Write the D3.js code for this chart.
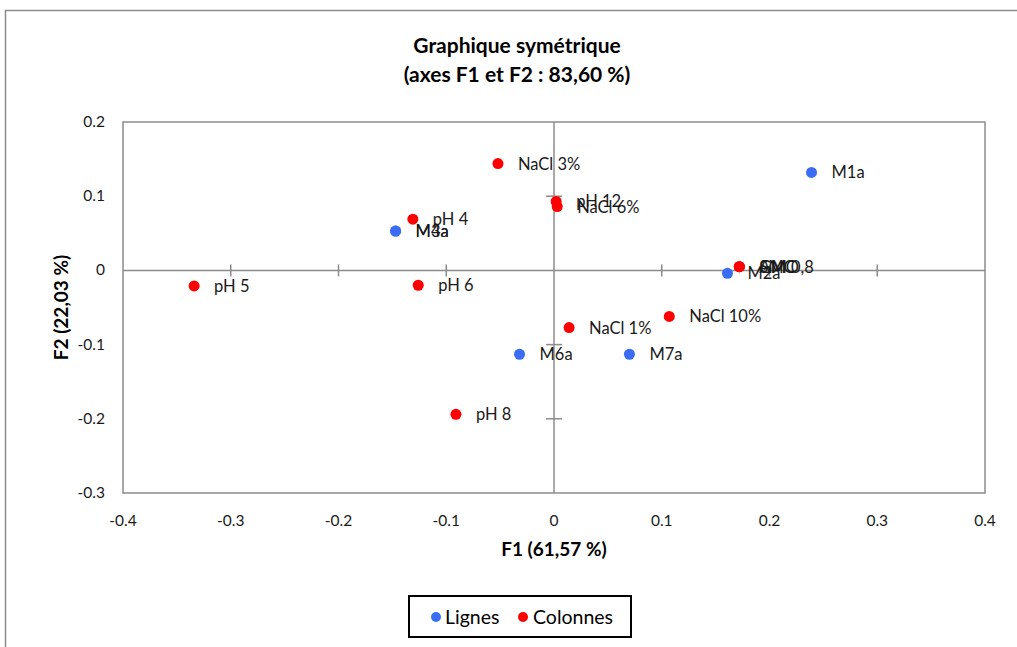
<!DOCTYPE html>
<html>
<head>
<meta charset="utf-8">
<script src="https://cdn.jsdelivr.net/npm/d3@7"></script>
<style>
body { margin: 0; background: #fff; }
svg { font-family: Lato, "Open Sans", sans-serif; }
</style>
</head>
<body>
<svg id="chart" width="1017" height="647"></svg>
<script>
// rows (Lignes)
var rowNames = ["M1a", "M3a", "M4a", "M2a", "M6a", "M7a"];
var rowF1 = [0.239, -0.147, -0.147, 0.161, -0.032, 0.070];
var rowF2 = [0.132, 0.053, 0.053, -0.004, -0.113, -0.113];

// columns (Colonnes)
var colNames = ["NaCl 3%", "pH 12", "NaCl 6%", "pH 4", "pH 5", "pH 6", "NaCl 1%", "NaCl 10%", "pH 8", "AMO", "SMC", "GM 0,8"];
var colF1 = [-0.052, 0.002, 0.003, -0.131, -0.334, -0.126, 0.014, 0.107, -0.091, 0.172, 0.172, 0.172];
var colF2 = [0.144, 0.093, 0.086, 0.069, -0.021, -0.020, -0.077, -0.062, -0.194, 0.005, 0.005, 0.005];

var xTicks = [-0.4, -0.3, -0.2, -0.1, 0, 0.1, 0.2, 0.3, 0.4];
var yTicks = [0.2, 0.1, 0, -0.1, -0.2, -0.3];

var margin = { top: 122, left: 123, right: 32, bottom: 154 };
var width = 1017 - margin.left - margin.right;
var height = 647 - margin.top - margin.bottom;

var xscale = d3.scaleLinear().domain([-0.4, 0.4]).range([0, width]);
var yscale = d3.scaleLinear().domain([-0.3, 0.2]).range([height, 0]);

var svg = d3.select("#chart");

// outer frame
svg.append("path")
	.attr("d", "M5.5,647 V10.5 H1017")
	.attr("fill", "none")
	.attr("stroke", "#8c8c8c")
	.attr("stroke-width", 1.5);

// title
svg.append("text")
	.attr("x", 517).attr("y", 53)
	.attr("text-anchor", "middle")
	.attr("font-weight", "bold").attr("font-size", 21)
	.text("Graphique symétrique");
svg.append("text")
	.attr("x", 517).attr("y", 82)
	.attr("text-anchor", "middle")
	.attr("font-weight", "bold").attr("font-size", 21)
	.text("(axes F1 et F2 : 83,60 %)");

var graph = svg.append("g")
	.attr("transform", "translate(" + margin.left + "," + margin.top + ")");

// plot border
graph.append("rect")
	.attr("width", width).attr("height", height)
	.attr("fill", "none")
	.attr("stroke", "#8c8c8c").attr("stroke-width", 1.5);

// x tick labels
graph.selectAll(".xlab").data(xTicks).enter().append("text")
	.attr("x", function(d) { return xscale(d); })
	.attr("y", height + 33)
	.attr("text-anchor", "middle")
	.attr("font-size", 15.5).attr("fill", "#1a1a1a")
	.text(function(d) { return String(d); });

// y tick labels
graph.selectAll(".ylab").data(yTicks).enter().append("text")
	.attr("x", -18)
	.attr("y", function(d) { return yscale(d) + 5; })
	.attr("text-anchor", "end")
	.attr("font-size", 15.5).attr("fill", "#1a1a1a")
	.text(function(d) { return String(d); });

// zero lines with tick crosses
graph.append("line")
	.attr("x1", 0).attr("x2", width)
	.attr("y1", yscale(0)).attr("y2", yscale(0))
	.attr("stroke", "#8c8c8c").attr("stroke-width", 1.5);
graph.append("line")
	.attr("x1", xscale(0)).attr("x2", xscale(0))
	.attr("y1", 0).attr("y2", height)
	.attr("stroke", "#8c8c8c").attr("stroke-width", 1.5);

graph.selectAll(".xt").data(xTicks.filter(function(d) { return d !== 0 && Math.abs(d) < 0.4; })).enter().append("line")
	.attr("x1", function(d) { return xscale(d); })
	.attr("x2", function(d) { return xscale(d); })
	.attr("y1", yscale(0) - 6).attr("y2", yscale(0) + 6)
	.attr("stroke", "#8c8c8c").attr("stroke-width", 1.5);
graph.selectAll(".yt").data(yTicks.filter(function(d) { return d !== 0 && d < 0.2 && d > -0.3; })).enter().append("line")
	.attr("x1", xscale(0) - 8).attr("x2", xscale(0) + 8)
	.attr("y1", function(d) { return yscale(d); })
	.attr("y2", function(d) { return yscale(d); })
	.attr("stroke", "#8c8c8c").attr("stroke-width", 1.5);

// axis titles
svg.append("text")
	.attr("x", margin.left + xscale(0)).attr("y", 556)
	.attr("text-anchor", "middle")
	.attr("font-weight", "bold").attr("font-size", 19)
	.text("F1 (61,57 %)");
svg.append("text")
	.attr("transform", "translate(68," + (margin.top + height / 2) + ") rotate(-90)")
	.attr("text-anchor", "middle")
	.attr("font-weight", "bold").attr("font-size", 19)
	.text("F2 (22,03 %)");

function drawSeries(names, xs, ys, color) {
	var g = graph.append("g");
	g.selectAll("circle").data(names).enter().append("circle")
		.attr("cx", function(d, i) { return xscale(xs[i]); })
		.attr("cy", function(d, i) { return yscale(ys[i]); })
		.attr("r", 5.5)
		.attr("fill", color);
	g.selectAll("text").data(names).enter().append("text")
		.attr("x", function(d, i) { return xscale(xs[i]) + 20; })
		.attr("y", function(d, i) { return yscale(ys[i]) + 6; })
		.attr("font-size", 16.5).attr("fill", "#1a1a1a")
		.text(function(d) { return d; });
}

drawSeries(rowNames, rowF1, rowF2, "#3a6cf4");
drawSeries(colNames, colF1, colF2, "#ff0000");

// legend
var legend = svg.append("g");
legend.append("rect")
	.attr("x", 409).attr("y", 596)
	.attr("width", 222).attr("height", 41)
	.attr("fill", "#fff")
	.attr("stroke", "#000").attr("stroke-width", 2);
legend.append("circle").attr("cx", 436).attr("cy", 617).attr("r", 5).attr("fill", "#3a6cf4");
legend.append("text").attr("x", 445).attr("y", 623.5).attr("font-size", 19.5).text("Lignes");
legend.append("circle").attr("cx", 523).attr("cy", 617).attr("r", 5).attr("fill", "#ff0000");
legend.append("text").attr("x", 533).attr("y", 623.5).attr("font-size", 19.5).text("Colonnes");
</script>
</body>
</html>
